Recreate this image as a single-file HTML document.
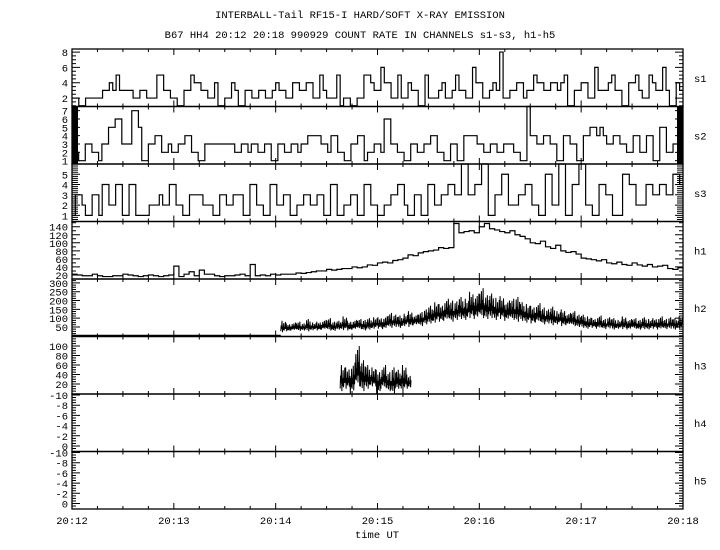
<!DOCTYPE html>
<html><head><meta charset="utf-8"><style>
html,body{margin:0;padding:0;background:#fff;}
svg{display:block;}
text{font-family:"Liberation Mono","DejaVu Sans Mono",monospace;font-size:10.5px;fill:#000;}
</style></head><body>
<svg id="chart" width="720" height="550" viewBox="0 0 720 550" xmlns="http://www.w3.org/2000/svg">
<rect x="0" y="0" width="720" height="550" fill="#fff"/>
<text x="360" y="18" text-anchor="middle">INTERBALL-Tail RF15-I HARD/SOFT X-RAY EMISSION</text>
<text x="360" y="38" text-anchor="middle">B67 HH4 20:12 20:18 990929  COUNT RATE IN CHANNELS s1-s3, h1-h5</text>
<text x="377" y="538" text-anchor="middle">time UT</text>
<g id="g"></g>
</svg>
<script>
// ---- data ----
const xTickLabels = ["20:12","20:13","20:14","20:15","20:16","20:17","20:18"];
const panelNames = ["s1","s2","s3","h1","h2","h3","h4","h5"];
const s1Values = [2,2,1,1,2,2,2,2,2,3,3,4,3,5,3,3,3,3,2,2,3,3,2,2,2,5,5,3,3,2,2,1,1,3,3,5,4,4,3,3,2,2,4,1,1,2,2,4,3,1,1,3,3,2,2,3,3,2,2,3,4,3,3,2,2,4,4,3,3,4,4,2,2,5,3,2,2,2,5,1,2,2,1,1,2,2,5,5,4,3,3,6,4,4,2,2,5,2,2,4,
3,3,1,1,5,2,2,2,3,4,2,2,3,5,3,3,2,2,6,4,4,2,2,3,4,3,8,2,2,3,3,4,4,2,3,3,5,4,4,3,3,4,4,3,4,5,1,1,3,3,4,4,2,2,6,3,3,3,4,5,3,3,1,1,4,4,5,3,2,2,5,4,3,3,6,3,1,1,4,3];
const s2Values = [2,2,1,1,3,3,2,2,1,3,3,5,5,6,6,3,3,3,7,7,5,1,1,3,3,4,4,2,2,3,2,2,3,3,4,4,2,2,1,1,3,3,3,3,3,3,3,3,3,2,2,3,3,2,3,3,2,2,3,3,1,1,3,3,2,2,3,3,2,3,3,4,4,4,4,3,3,2,4,4,2,2,1,1,3,3,4,4,1,2,2,3,3,2,6,6,3,3,2,2,
1,1,3,3,2,2,3,3,4,4,2,2,1,1,3,3,1,1,4,4,4,4,3,3,2,2,3,3,2,2,3,3,3,2,2,1,1,8,4,4,3,3,4,4,3,3,1,1,4,4,3,3,1,1,4,4,5,5,4,5,4,3,3,4,4,3,3,2,2,4,4,2,2,4,4,1,1,5,5,2,2,3,3,2];
const s3Values = [1,3,3,2,1,1,3,3,1,4,4,2,2,4,4,1,1,4,4,1,1,1,1,2,2,2,3,2,2,4,4,2,2,1,1,3,3,3,3,2,2,2,1,1,3,3,2,2,3,3,3,1,1,4,4,2,2,1,1,4,4,2,2,3,3,1,1,2,2,3,3,2,2,3,3,1,1,4,4,1,1,2,2,3,3,1,1,4,4,2,2,1,1,2,2,3,3,4,4,2,
1,1,3,3,1,1,4,4,2,2,3,3,4,4,3,3,6,6,3,3,4,4,7,7,1,1,3,3,5,5,2,2,2,3,3,4,4,2,2,1,1,5,5,2,2,7,7,1,1,4,4,6,6,2,2,1,1,4,4,3,3,1,1,1,5,5,4,4,2,2,2,4,4,3,3,4,4,3,3,5,5,4];
const h1Values = [22,20,18,18,22,18,16,16,18,18,22,20,18,16,18,20,18,16,18,20,
42,16,22,28,18,32,22,22,18,16,18,18,20,22,18,46,18,20,18,22,
20,22,22,22,25,24,26,28,30,30,34,32,34,36,36,40,38,40,45,44,
50,52,50,56,58,62,70,68,75,78,80,82,88,86,88,
148,125,128,130,125,140,148,135,132,128,125,130,120,116,110,
100,98,104,90,86,94,80,76,78,72,
62,60,58,55,58,50,48,52,46,44,50,45,42,46,40,42,44,36,34,38];
const h2Start = 123; // seconds after 20:12
const h2Lo = [20,25,30,28,30,25,32,30,35,30,28,35,32,30,35,38,30,35,40,
40,38,45,50,45,55,50,60,55,65,70,75,80,85,80,90,95,90,100,95,
100,95,100,90,95,85,90,80,85,75,70,75,65,70,60,65,55,60,55,50,
45,40,45,40,38,42,35,40,38,35,40,35,38,36,40,35,38,40,35,42];
const h2Hi = [85,70,75,80,70,95,75,80,90,100,80,85,110,85,90,95,90,100,105,
105,110,130,120,115,125,140,120,135,150,170,190,180,210,200,195,220,210,250,240,
270,230,240,215,225,200,210,220,190,180,170,185,160,150,165,140,150,130,140,120,
120,110,100,115,95,105,100,90,110,95,100,90,105,95,100,110,95,105,100,110];
const h3Start = 158;
const h3Lo = [5,10,0,15,5,10,15,0,10,5,0,10,5,10];
const h3Hi = [60,55,65,100,70,60,55,50,60,45,55,50,60,40];
const s1Ticks=[2,4,6,8], s2Ticks=[1,2,3,4,5,6,7], s3Ticks=[1,2,3,4,5];
const h1Ticks=[20,40,60,80,100,120,140], h2Ticks=[50,100,150,200,250,300];
const h3Ticks=[20,40,60,80,100], h4Ticks=[-10,-8,-6,-4,-2,0], h5Ticks=[-10,-8,-6,-4,-2,0];

// ---- layout ----
const X0=72, X1=683, T1=360;
const tops=[49,106.5,164,221.5,279,336.5,394,451.5,509];
const domains=[[0.9,8.4],[0.6,7.5],[0.4,6.0],[10,153],[-4,322],[-1,120],[null],[null]];
const NS='http://www.w3.org/2000/svg';
const g=document.getElementById('g');
function x(t){return X0+(X1-X0)*t/T1;}
function yScale(i){
  const top=tops[i],bot=tops[i+1];
  if(i>=6){ return v=>top+1+(v+10)*5.1; }
  const [a,b]=domains[i];
  return v=>bot-(v-a)/(b-a)*(bot-top);
}
function mk(tag,attrs,parent){const e=document.createElementNS(NS,tag);for(const k in attrs)e.setAttribute(k,attrs[k]);(parent||g).appendChild(e);return e;}
function clampY(i,y){return Math.max(tops[i],Math.min(tops[i+1],y));}

const tickSets=[s1Ticks,s2Ticks,s3Ticks,h1Ticks,h2Ticks,h3Ticks,h4Ticks,h5Ticks];
const minorSteps=[0.5,0.1,0.2,10,12.5,5,0.5,0.5];
const minorLen=[4,6,6,4,4,4,4,4];
for(let i=0;i<8;i++){
  const y=yScale(i);
  let d='';
  const ts=tickSets[i];
  const tmin=ts[0]-minorSteps[i]*10, tmax=ts[ts.length-1]+minorSteps[i]*10;
  for(let v=tmin; v<=tmax+1e-9; v+=minorSteps[i]){
    const yy=y(v); if(yy<tops[i]+0.5||yy>tops[i+1]-0.5) continue;
    d+=`M${X0} ${yy}h${minorLen[i]}M${X1} ${yy}h-${minorLen[i]}`;
  }
  ts.forEach(v=>{const yy=y(v); d+=`M${X0} ${yy}h8M${X1} ${yy}h-8`;});
  const tk=mk('path',{d:d,stroke:'#000','stroke-width':1,fill:'none'});
  
  
  ts.forEach(v=>{
    const t=mk('text',{x:68,y:y(v)+4,'text-anchor':'end'});
    t.textContent=String(v);
    
    
  });
  const pl=mk('text',{x:694,y:(tops[i]+tops[i+1])/2+4});
  pl.textContent=panelNames[i];
  
  
}
let td='';
for(let k=0;k<9;k++){
  const yy=tops[k];
  for(let s=0;s<=T1;s+=15){
    const L=(s%60===0)?6:3;
    td+=`M${x(s)} ${yy-(k===0?0:L)}V${yy+(k===8?0:L)}`;
  }
}
const tp=mk('path',{d:td,stroke:'#000','stroke-width':1,fill:'none'});


xTickLabels.forEach((lab,k)=>{
  const t=mk('text',{x:x(k*60),y:524,'text-anchor':'middle'});
  t.textContent=lab;
  
  
});
for(let i=0;i<8;i++){
  const r=mk('rect',{x:X0,y:tops[i],width:X1-X0,height:tops[i+1]-tops[i],fill:'none',stroke:'#000','stroke-width':1.3});
  
  
}
function steps(i,vals,name){
  const y=yScale(i), bw=T1/vals.length;
  let d='';
  vals.forEach((v,k)=>{
    const yy=clampY(i,y(v));
    d+=(k===0?`M${x(0)} ${yy}`:`V${yy}`)+`H${x((k+1)*bw)}`;
  });
  const p=mk('path',{d:d,stroke:'#000','stroke-width':1.2,fill:'none'});
  
  
}
steps(0,s1Values,'s1-series');
steps(1,s2Values,'s2-series');
steps(2,s3Values,'s3-series');
steps(3,h1Values,'h1-series');
function band(i,start,lo,hi,bs,name){
  const y=yScale(i);
  let d='';
  const fr=[[0.1,0.6],[0.3,1.0],[0.0,0.5],[0.2,0.8],[0.15,0.45],[0.35,0.9]];
  lo.forEach((l,k)=>{
    const t0=start+k*bs;
    const ya=y(hi[k]), yb=y(l);
    const n=6;
    let pts=[];
    for(let j=0;j<n;j++){
      const f=fr[(j+k)%fr.length];
      const xa=x(t0+bs*j/n);
      pts.push(`${xa} ${clampY(i,yb-(yb-ya)*f[0])}`);
      pts.push(`${xa+0.4} ${clampY(i,yb-(yb-ya)*f[1])}`);
    }
    d+=(k===0?'M':'L')+pts.join('L');
  });
  const p=mk('path',{d:d,stroke:'#000','stroke-width':1,fill:'none'});
  
  
  const core=[], top=[];
  lo.forEach((l,k)=>{
    const xm=x(start+k*bs+bs/2);
    core.push([xm,clampY(i,y(l+(hi[k]-l)*0.3))]);
    top.push([xm,clampY(i,y(l+(hi[k]-l)*0.5))]);
  });
  const pts=top.map(p=>p.join(',')).concat(core.reverse().map(p=>p.join(','))).join(' ');
  const pg=mk('polygon',{points:pts,fill:'#000'});
  
  
}
const y2=yScale(4);
const fl=mk('path',{d:`M${x(0)} ${y2(0)}H${x(h2Start)}`,stroke:'#000','stroke-width':2,fill:'none'});


band(4,h2Start,h2Lo,h2Hi,3,'h2-series');
band(5,h3Start,h3Lo,h3Hi,3,'h3-series');
</script>
</body></html>
